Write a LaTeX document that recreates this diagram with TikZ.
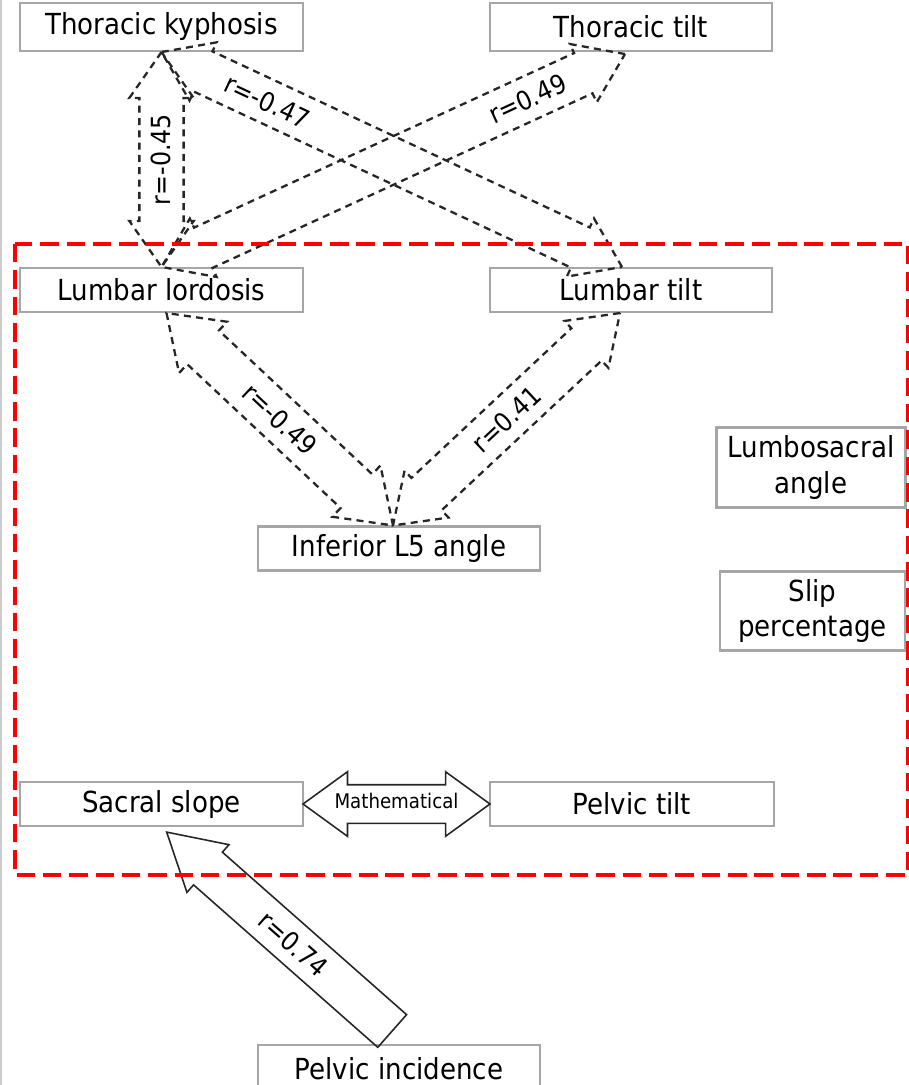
\documentclass[tikz,border=0pt]{standalone}
\usepackage{fontspec}
\setmainfont{DejaVu Sans}[FakeStretch=0.9]
\usetikzlibrary{shapes.arrows,calc}

\newcommand{\boxfont}{\fontsize{16.5}{20}\selectfont}
\newcommand{\rfont}{\fontsize{15}{18}\selectfont}
\newcommand{\mfont}{\fontsize{11.5}{14}\selectfont}

\tikzset{
  box/.style={draw=black!35, line width=1.2pt, minimum width=5.66cm, minimum height=0.88cm, inner sep=2pt, align=center, font=\boxfont},
  corr/.style={double arrow, draw=black!85, line width=1.3pt, dash pattern=on 4pt off 3pt, double arrow tip angle=70, double arrow head extend=0.2cm, inner sep=0pt, text height=0.61cm, text depth=0.23cm, font=\rfont},
  solidarrow/.style={draw=black!85, line width=0.9pt, inner sep=0pt},
  rlab/.style={font=\rfont, inner sep=1pt},
  region/.style={draw=red, line width=2.5pt, dash pattern=on 10.5pt off 4.5pt}
}

\begin{document}
\begin{tikzpicture}[x=0.02cm, y=0.02cm]
  \useasboundingbox (0,0) rectangle (909,-1085);
  \draw[black!20, line width=1.5pt] (1,0) -- (1,-1085);

  % boxes
  \node[box, minimum height=0.96cm] (tk) at (161.5,-27) {Thoracic kyphosis};
  \node[box, minimum height=0.96cm, minimum width=5.64cm] (tt) at (631,-27) {Thoracic tilt};
  \node[box] (ll) at (161.5,-290) {Lumbar lordosis};
  \node[box, minimum width=5.64cm] (lt) at (631,-290) {Lumbar tilt};
  \node[box, minimum width=5.64cm] (l5) at (399,-548.5) {Inferior L5 angle};
  \node[box, minimum width=3.78cm, minimum height=1.6cm] (lsa) at (811,-467.5) {Lumbosacral\\angle};
  \node[box, minimum width=3.7cm, minimum height=1.58cm] (sp) at (812.5,-611) {Slip\\percentage};
  \node[box] (ss) at (161.5,-804) {Sacral slope};
  \node[box, minimum width=5.68cm] (pt) at (632,-804) {Pelvic tilt};
  \node[box, minimum width=5.64cm, minimum height=0.96cm] (pi) at (399,-1069) {Pelvic incidence};

  % arrow ends
  \coordinate (k1) at (tk.south);
  \coordinate (l1) at (ll.north);
  \coordinate (t1) at ([shift={(-6,-2)}]tt.south);
  \coordinate (lt1) at ([shift={(-9,0)}]lt.north);
  \coordinate (l2) at ([shift={(5,0)}]ll.south);
  \coordinate (lt2) at ([shift={(-11,0)}]lt.south);
  \coordinate (f1) at ([shift={(-6,0)}]l5.north);
  \coordinate (s1) at ([shift={(4,-4)}]ss.south);
  \coordinate (pi1) at ([shift={(-8,14)}]pi.north);

  % correlations
  \path let \p1=($(k1)-(l1)$), \n1={atan2(\y1,\x1)}, \n2={veclen(\x1,\y1)} in
    node[corr, minimum height=\n2, rotate=\n1] (a45) at ($(l1)!0.5!(k1)$) {r=-0.45};
  \path let \p1=($(lt1)-(k1)$), \n1={atan2(\y1,\x1)}, \n2={veclen(\x1,\y1)} in
    node[corr, minimum height=\n2, rotate=\n1] (a47) at ($(k1)!0.5!(lt1)$) {}
    node[rlab, rotate=\n1] (r47) at ($(k1)!0.23!(lt1)$) {r=-0.47};
  \path let \p1=($(t1)-(l1)$), \n1={atan2(\y1,\x1)}, \n2={veclen(\x1,\y1)} in
    node[corr, minimum height=\n2, rotate=\n1] (a49) at ($(l1)!0.5!(t1)$) {}
    node[rlab, rotate=\n1] (r49) at ($(l1)!0.79!(t1)$) {r=0.49};
  \path let \p1=($(f1)-(l2)$), \n1={atan2(\y1,\x1)}, \n2={veclen(\x1,\y1)} in
    node[corr, minimum height=\n2, rotate=\n1, text height=0.63cm, text depth=0.25cm,
      double arrow head extend=0.24cm] (b49) at ($(l2)!0.5!(f1)$) {r=-0.49};
  \path let \p1=($(lt2)-(f1)$), \n1={atan2(\y1,\x1)}, \n2={veclen(\x1,\y1)} in
    node[corr, minimum height=\n2, rotate=\n1] (a41) at ($(f1)!0.5!(lt2)$) {r=0.41};

  % pelvic incidence to sacral slope
  \path let \p1=($(pi1)-(s1)$), \n1={atan2(\y1,\x1)}, \n2={veclen(\x1,\y1)} in
    node[single arrow, solidarrow, single arrow tip angle=60, single arrow head extend=0.2cm,
      text height=0.61cm, text depth=0.23cm, font=\rfont, minimum height=\n2, rotate=\n1,
      shape border rotate=180, anchor=tip] (a74) at (s1) {r=0.74};

  % mathematical relation
  \node[double arrow, solidarrow, double arrow tip angle=72, double arrow head extend=0.26cm,
    text height=0.37cm, text depth=0.37cm, minimum height=3.74cm] (am) at ($(ss.east)!0.5!(pt.west)$) {};
  \node[font=\mfont, inner sep=0pt] (tm) at ([yshift=2]am.center) {Mathematical};

  % lumbopelvic region
  \draw[region] (15,-244) rectangle (908,-875);
\end{tikzpicture}
\end{document}
